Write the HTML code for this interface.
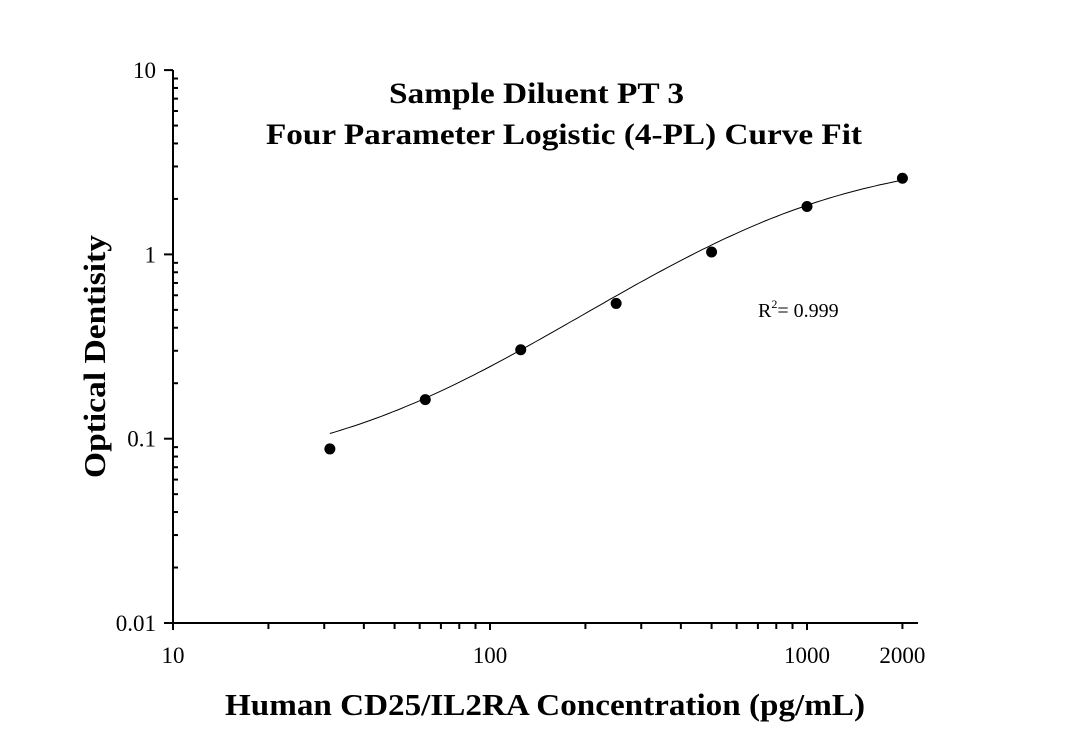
<!DOCTYPE html>
<html><head><meta charset="utf-8"><style>
body{margin:0;background:#fff}
svg text{font-family:"Liberation Serif",serif;fill:#000}
</style></head><body>
<svg id="chart" width="1065" height="751" xmlns="http://www.w3.org/2000/svg">
<text x="389" y="103" font-size="30" font-weight="bold" textLength="295" lengthAdjust="spacingAndGlyphs">Sample Diluent PT 3</text>
<text x="266" y="144" font-size="30" font-weight="bold" textLength="596" lengthAdjust="spacingAndGlyphs">Four Parameter Logistic (4-PL) Curve Fit</text>
<text transform="translate(105,478) rotate(-90)" font-size="31" font-weight="bold" textLength="243" lengthAdjust="spacingAndGlyphs">Optical Dentisity</text>
<text x="225" y="715" font-size="31" font-weight="bold" textLength="640" lengthAdjust="spacingAndGlyphs">Human CD25/IL2RA Concentration (pg/mL)</text>
<text x="758" y="317" font-size="20">R<tspan font-size="12" dy="-9">2</tspan><tspan dy="9">= 0.999</tspan></text>
<g id="axes"></g>
<g id="marks"></g>
</svg>
<script>
const xValues=[31.25,62.5,125,250,500,1000,2000];
const yValues=[0.088,0.163,0.304,0.542,1.03,1.82,2.59];
const fitParams=[0.065,1.3,900,3.4]; // A(bottom), B(slope), C(midpoint), D(top)
const xTicks=[10,100,1000,2000];
const xTickLabels=["10","100","1000","2000"];
const yTicks=[0.01,0.1,1,10];
const yTickLabels=["0.01","0.1","1","10"];
const NS="http://www.w3.org/2000/svg";
const X0=173,X1=918,Y0=623,Y1=70;
function sx(v){return X0+(Math.log10(v)-1)*317;}
function sy(v){return Y0-(Math.log10(v)+2)*184.3;}
function mk(t,a,p){const e=document.createElementNS(NS,t);for(const k in a)e.setAttribute(k,a[k]);(p||document.getElementById('axes')).appendChild(e);return e;}
let l=mk('line',{x1:X0,y1:Y0,x2:X1,y2:Y0,stroke:'#000','stroke-width':2});


l=mk('line',{x1:X0,y1:Y0,x2:X0,y2:Y1,stroke:'#000','stroke-width':2});


for(let d=-2;d<=1;d++){
  const y=sy(Math.pow(10,d));
  mk('line',{x1:X0-9,y1:y,x2:X0,y2:y,stroke:'#000','stroke-width':2});
  if(d<1)for(let m=2;m<=9;m++){const yy=sy(m*Math.pow(10,d));mk('line',{x1:X0,y1:yy,x2:X0+5,y2:yy,stroke:'#000','stroke-width':2});}
}
yTicks.forEach((v,i)=>{const t=mk('text',{x:X0-17,y:sy(v)+8,'text-anchor':'end','font-size':23});t.textContent=yTickLabels[i];

});
for(let d=1;d<=3;d++){
  mk('line',{x1:sx(Math.pow(10,d)),y1:Y0,x2:sx(Math.pow(10,d)),y2:Y0+7,stroke:'#000','stroke-width':2});
  for(let m=2;m<=9;m++){const v=m*Math.pow(10,d);const x=sx(v);if(x>X1)break;mk('line',{x1:x,y1:Y0,x2:x,y2:Y0+6,stroke:'#000','stroke-width':2});}
}
xTicks.forEach((v,i)=>{const t=mk('text',{x:sx(v),y:Y0+40,'text-anchor':'middle','font-size':23});t.textContent=xTickLabels[i];

});
const marks=document.getElementById('marks');
const [A,B,C,D]=fitParams;
function f(x){return D+(A-D)/(1+Math.pow(x/C,B));}
let pts=[];const lx0=Math.log10(xValues[0]),lx1=Math.log10(xValues[xValues.length-1]);
for(let i=0;i<=100;i++){const x=Math.pow(10,lx0+(lx1-lx0)*i/100);pts.push(sx(x).toFixed(1)+','+sy(f(x)).toFixed(1));}
const c=mk('polyline',{points:pts.join(' '),fill:'none',stroke:'#000','stroke-width':1},marks);


xValues.forEach((v,i)=>{const p=mk('circle',{cx:sx(v),cy:sy(yValues[i]),r:5.5,fill:'#000'},marks);

});
</script>
</body></html>
